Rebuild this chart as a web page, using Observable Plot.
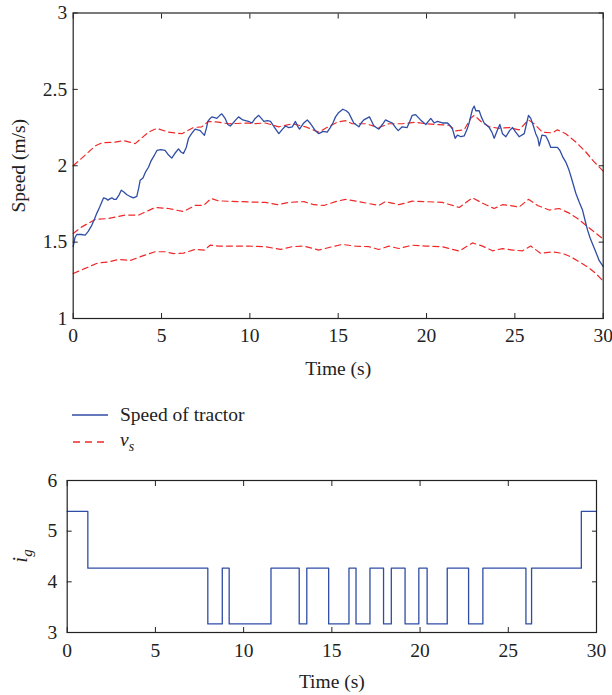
<!DOCTYPE html>
<html>
<head>
<meta charset="utf-8">
<script src="https://cdn.jsdelivr.net/npm/d3@7"></script>
<script src="https://cdn.jsdelivr.net/npm/@observablehq/plot@0.6"></script>
<style>
  html, body { margin: 0; padding: 0; background: #fff; }
  #wrap { position: relative; width: 612px; height: 695px; font-family: "Liberation Serif", serif; color: #222; }
  #topChart { position: absolute; left: 0; top: 0; }
  #legend { position: absolute; left: 0; top: 400px; width: 612px; }
  #bottomChart { position: absolute; left: 0; top: 470px; }
  .lg { position: absolute; left: 72px; height: 28px; display: flex; align-items: center; font-size: 19.5px; }
  .lg svg { margin-right: 12px; }
</style>
</head>
<body>
<div id="wrap">
  <div id="topChart"></div>
  <div id="legend"></div>
  <div id="bottomChart"></div>
</div>
<script>
// ---------- Data ----------
const xTicks = [0, 5, 10, 15, 20, 25, 30];
const speedTicks = [1, 1.5, 2, 2.5, 3];
const gearTicks = [3, 4, 5, 6];

const speedTime = [0,0.1,0.2,0.45,0.68,0.85,1.05,1.2,1.34,1.5,1.72,1.85,1.96,2.1,2.19,2.3,2.43,2.6,2.72,2.85,3.04,3.2,3.41,3.6,3.7,3.79,3.95,4.1,4.26,4.4,4.6,4.74,4.95,5.2,5.4,5.58,5.75,5.96,6.1,6.24,6.4,6.53,6.7,6.9,7.05,7.19,7.3,7.43,7.55,7.62,7.75,7.85,8.0,8.13,8.3,8.41,8.6,8.75,8.89,9.05,9.2,9.36,9.6,9.92,10.13,10.3,10.5,10.65,10.79,11.0,11.17,11.4,11.64,11.85,12.02,12.2,12.4,12.58,12.7,12.81,13.05,13.25,13.4,13.53,13.7,13.9,14.15,14.38,14.55,14.7,14.85,15.0,15.26,15.45,15.6,15.75,15.88,16.17,16.3,16.45,16.77,16.9,17.02,17.3,17.5,17.68,17.85,18.06,18.25,18.4,18.62,18.9,19.05,19.19,19.38,19.66,19.96,20.1,20.24,20.43,20.62,20.9,21.19,21.35,21.47,21.62,21.75,21.95,22.13,22.3,22.41,22.6,22.7,22.79,22.98,23.1,23.26,23.55,23.7,23.83,24.02,24.15,24.3,24.49,24.7,24.87,25.05,25.24,25.53,25.65,25.77,25.9,26.05,26.18,26.3,26.38,26.53,26.75,26.9,27.03,27.41,27.55,27.7,27.9,28.07,28.25,28.45,28.65,28.83,29.0,29.11,29.25,29.39,29.6,29.77,30.0];
const speedValue = [1.47,1.53,1.55,1.55,1.546,1.57,1.61,1.65,1.69,1.73,1.79,1.785,1.775,1.785,1.79,1.78,1.78,1.81,1.84,1.83,1.81,1.80,1.79,1.80,1.85,1.905,1.92,1.96,1.99,2.03,2.07,2.10,2.105,2.10,2.07,2.05,2.08,2.11,2.09,2.08,2.12,2.18,2.21,2.24,2.235,2.23,2.215,2.20,2.25,2.29,2.31,2.32,2.315,2.31,2.33,2.34,2.31,2.27,2.26,2.28,2.30,2.32,2.30,2.29,2.28,2.31,2.33,2.31,2.29,2.295,2.29,2.25,2.21,2.24,2.26,2.25,2.255,2.29,2.26,2.24,2.28,2.30,2.28,2.26,2.23,2.21,2.225,2.22,2.25,2.28,2.32,2.345,2.37,2.36,2.345,2.31,2.28,2.255,2.28,2.30,2.32,2.29,2.26,2.24,2.27,2.30,2.29,2.28,2.25,2.23,2.255,2.25,2.29,2.33,2.335,2.30,2.27,2.29,2.31,2.28,2.29,2.28,2.28,2.26,2.24,2.18,2.20,2.19,2.195,2.24,2.28,2.37,2.39,2.36,2.36,2.32,2.28,2.25,2.22,2.18,2.235,2.27,2.21,2.19,2.23,2.25,2.22,2.19,2.21,2.27,2.33,2.31,2.26,2.21,2.18,2.13,2.20,2.195,2.16,2.12,2.12,2.10,2.06,2.02,1.97,1.90,1.82,1.76,1.71,1.63,1.58,1.53,1.49,1.43,1.38,1.34];

const vsHighTime = [0,0.49,1.25,1.62,2.38,2.85,3.51,4.26,4.74,5.39,6.15,6.81,7.28,7.66,8.22,8.79,9.92,10.13,10.88,11.64,12.4,13.15,13.9,14.28,14.94,15.41,15.79,16.55,17.3,17.87,18.62,19.38,19.94,21.28,21.66,22.13,22.5,22.7,23.08,23.55,24.11,24.68,25.24,25.77,26.09,26.56,27.13,27.41,27.88,28.45,29.02,29.49,30];
const vsHighValue = [2.0,2.05,2.13,2.15,2.155,2.165,2.145,2.22,2.245,2.22,2.21,2.25,2.255,2.29,2.285,2.275,2.28,2.275,2.28,2.255,2.275,2.255,2.22,2.245,2.285,2.295,2.275,2.275,2.25,2.275,2.275,2.285,2.275,2.265,2.228,2.235,2.31,2.33,2.29,2.255,2.245,2.25,2.235,2.30,2.275,2.22,2.215,2.235,2.21,2.155,2.09,2.025,1.965];

const vsMidTime = [0,0.49,1.25,2.0,2.94,3.7,4.64,5.39,6.24,6.9,7.38,7.81,8.22,9.92,10.88,11.55,12.2,13.06,13.62,14.19,14.85,15.41,16.17,17.3,17.68,18.43,19.19,19.94,20.9,21.85,22.6,23.08,23.83,24.3,24.68,25.24,25.77,26.28,26.94,27.51,28.07,28.55,29.02,29.49,30];
const vsMidValue = [1.557,1.60,1.648,1.655,1.677,1.677,1.727,1.72,1.70,1.74,1.74,1.786,1.77,1.763,1.76,1.745,1.76,1.765,1.745,1.74,1.765,1.78,1.765,1.74,1.765,1.745,1.768,1.765,1.76,1.727,1.79,1.76,1.72,1.745,1.74,1.73,1.78,1.74,1.71,1.72,1.69,1.655,1.61,1.567,1.52];

const vsLowTime = [0,0.68,1.43,2.0,2.57,3.23,3.89,4.64,5.2,5.68,6.24,6.9,7.43,7.75,8.22,9.92,10.88,11.73,12.4,13.06,13.9,14.66,15.22,15.98,16.74,17.3,17.87,18.43,19.19,19.94,20.9,21.85,22.6,23.17,23.74,24.3,24.87,25.43,25.9,26.47,27.13,27.7,28.17,28.64,29.11,29.58,30];
const vsLowValue = [1.295,1.328,1.365,1.37,1.387,1.38,1.408,1.437,1.437,1.425,1.428,1.452,1.448,1.48,1.474,1.474,1.47,1.452,1.47,1.474,1.448,1.47,1.485,1.474,1.47,1.452,1.474,1.458,1.48,1.474,1.47,1.441,1.495,1.474,1.443,1.458,1.448,1.443,1.474,1.426,1.437,1.426,1.404,1.371,1.338,1.295,1.245];

const gearTime  = [0,1.17,7.97,8.79,9.18,11.55,13.15,13.58,14.82,15.97,16.37,17.16,17.93,18.37,19.15,19.93,20.4,21.54,22.75,23.56,26.0,26.32,29.14,30];
const gearValue = [5.39,4.27,3.17,4.27,3.17,4.27,3.17,4.27,3.17,4.27,3.17,4.27,3.17,4.27,3.17,4.27,3.17,4.27,3.17,4.27,3.17,4.27,5.39,5.39];

// ---------- Tables built from the arrays ----------
const speedRows = speedTime.map((t, i) => ({t, v: speedValue[i]}));
const vsHighRows = vsHighTime.map((t, i) => ({t, v: vsHighValue[i]}));
const vsMidRows = vsMidTime.map((t, i) => ({t, v: vsMidValue[i]}));
const vsLowRows = vsLowTime.map((t, i) => ({t, v: vsLowValue[i]}));
const gearRows = gearTime.map((t, i) => ({t, g: gearValue[i]}));

const BLUE = "#2f4da6";
const RED = "#f02828";
const INK = "#222";
const fmt = d => String(d);
const baseStyle = {fontFamily: "'Liberation Serif', serif", fontSize: "19.5px", color: INK, background: "transparent", overflow: "visible"};

// ---------- Top chart ----------
const topPlot = Plot.plot({
  width: 612, height: 380,
  marginLeft: 72.7, marginRight: 9.3, marginTop: 12.5, marginBottom: 62,
  style: baseStyle,
  x: {domain: [0, 30]},
  y: {domain: [1, 3]},
  marks: [
    Plot.line(vsHighRows, {x: "t", y: "v", stroke: RED, strokeWidth: 1.2, strokeDasharray: "6,4"}),
    Plot.line(vsMidRows, {x: "t", y: "v", stroke: RED, strokeWidth: 1.2, strokeDasharray: "6,4"}),
    Plot.line(vsLowRows, {x: "t", y: "v", stroke: RED, strokeWidth: 1.2, strokeDasharray: "6,4"}),
    Plot.line(speedRows, {x: "t", y: "v", stroke: BLUE, strokeWidth: 1.3}),
    Plot.frame({stroke: INK, strokeWidth: 1.2}),
    Plot.axisX(xTicks, {anchor: "bottom", tickSize: -5, fill: "none", stroke: INK}),
    Plot.axisX(xTicks, {anchor: "top", tickSize: -5, fill: "none", stroke: INK}),
    Plot.axisY(speedTicks, {anchor: "left", tickSize: -5, fill: "none", stroke: INK}),
    Plot.axisY(speedTicks, {anchor: "right", tickSize: -5, fill: "none", stroke: INK}),
    Plot.axisX(xTicks, {anchor: "bottom", tickSize: 0, tickPadding: 10, tickFormat: fmt, label: "Time (s)", labelAnchor: "center", labelOffset: 56, labelArrow: "none"}),
    Plot.axisY(speedTicks, {anchor: "left", tickSize: 0, tickPadding: 6, tickFormat: fmt, label: "Speed (m/s)", labelAnchor: "center", labelOffset: 62, labelArrow: "none"})
  ]
});
document.getElementById("topChart").appendChild(topPlot);

// ---------- Legend ----------
const legendDiv = document.getElementById("legend");
legendDiv.innerHTML = `
  <div class="lg" style="top:1px">
    <svg width="36" height="10"><line x1="0" y1="5" x2="36" y2="5" stroke="${BLUE}" stroke-width="1.3"/></svg>
    <span>Speed of tractor</span>
  </div>
  <div class="lg" style="top:28px">
    <svg width="36" height="10"><line x1="1" y1="5" x2="36" y2="5" stroke="${RED}" stroke-width="1.3" stroke-dasharray="7,5"/></svg>
    <span><i>v</i><sub style="font-size:14px"><i>s</i></sub></span>
  </div>`;

// ---------- Bottom chart ----------
const bottomPlot = Plot.plot({
  width: 612, height: 225,
  marginLeft: 66.7, marginRight: 16, marginTop: 10, marginBottom: 63,
  style: baseStyle,
  x: {domain: [0, 30]},
  y: {domain: [3, 6]},
  marks: [
    Plot.line(gearRows, {x: "t", y: "g", curve: "step-after", stroke: BLUE, strokeWidth: 1.3}),
    Plot.frame({stroke: INK, strokeWidth: 1.2}),
    Plot.axisX(xTicks, {anchor: "bottom", tickSize: -5, fill: "none", stroke: INK}),
    Plot.axisX(xTicks, {anchor: "top", tickSize: -5, fill: "none", stroke: INK}),
    Plot.axisY(gearTicks, {anchor: "left", tickSize: -5, fill: "none", stroke: INK}),
    Plot.axisY(gearTicks, {anchor: "right", tickSize: -5, fill: "none", stroke: INK}),
    Plot.axisX(xTicks, {anchor: "bottom", tickSize: 0, tickPadding: 11, tickFormat: fmt, label: "Time (s)", labelAnchor: "center", labelOffset: 55, labelArrow: "none"}),
    Plot.axisY(gearTicks, {anchor: "left", tickSize: 0, tickPadding: 10, tickFormat: fmt, label: null})
  ]
});
document.getElementById("bottomChart").appendChild(bottomPlot);

// y label i_g (italic with subscript)
const igLabel = d3.select(bottomPlot).append("text")
  .attr("transform", "translate(27,86) rotate(-90)")
  .attr("text-anchor", "middle")
  .attr("fill", INK)
  .attr("font-size", 21);
igLabel.append("tspan").attr("font-style", "italic").text("i");
igLabel.append("tspan").attr("font-style", "italic").attr("font-size", 15).attr("dy", 5).text("g");
</script>
</body>
</html>
